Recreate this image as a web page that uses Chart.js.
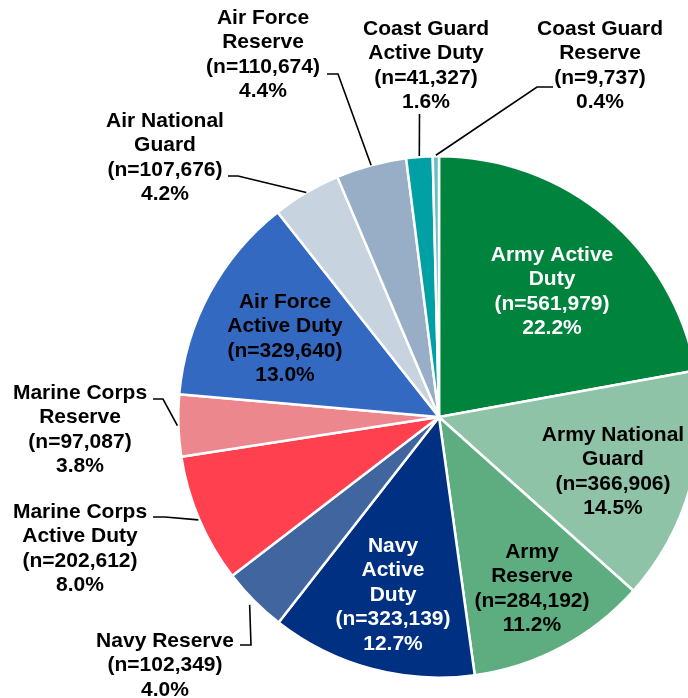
<!DOCTYPE html>
<html>
<head>
<meta charset="utf-8">
<script src="https://cdn.jsdelivr.net/npm/chart.js@4.4.1/dist/chart.umd.min.js"></script>
<style>
  html, body { margin: 0; padding: 0; background: #fff; }
  .wrap { width: 688px; height: 698px; overflow: hidden; position: relative; }
  canvas { display: block; }
</style>
</head>
<body>
<div class="wrap"><canvas id="pie" width="720" height="698"></canvas></div>
<script>
// data
const branches = [
  'Army Active\nDuty', 'Army National\nGuard', 'Army\nReserve', 'Navy\nActive\nDuty',
  'Navy Reserve', 'Marine Corps\nActive Duty', 'Marine Corps\nReserve', 'Air Force\nActive Duty',
  'Air National\nGuard', 'Air Force\nReserve', 'Coast Guard\nActive Duty', 'Coast Guard\nReserve'
];
const counts = [561979, 366906, 284192, 323139, 102349, 202612, 97087, 329640, 107676, 110674, 41327, 9737];
const percents = ['22.2', '14.5', '11.2', '12.7', '4.0', '8.0', '3.8', '13.0', '4.2', '4.4', '1.6', '0.4'];
const colors = ['#00843D', '#8FC3A8', '#5DAD80', '#003082', '#41659F', '#FF404F',
  '#EC878E', '#3469C2', '#C8D3E0', '#98ADC6', '#00A0A4', '#69BEC0'];

const LINE_H = 24.5;
// label placement: centre x, first line centre y, text colour, optional leader line
const labelLayout = [
  { x: 552, y: 255, color: '#fff' },
  { x: 613, y: 435, color: '#000' },
  { x: 532, y: 552, color: '#000' },
  { x: 393, y: 546, color: '#fff' },
  { x: 165, y: 641, color: '#000', leader: [[240, 645], [251, 645]], gap: 6 },
  { x: 80, y: 512, color: '#000', leader: [[153, 517], [165, 517]], gap: 1 },
  { x: 80, y: 393, color: '#000', leader: [[153, 399], [163, 399]], gap: 1 },
  { x: 285, y: 302, color: '#000' },
  { x: 165, y: 121, color: '#000', leader: [[228, 176], [238, 176]], gap: 0 },
  { x: 263, y: 18, color: '#000', leader: [[327, 74], [338, 74]], gap: 0 },
  { x: 426, y: 29, color: '#000', leader: [[419.5, 114]], gap: 1 },
  { x: 600, y: 29, color: '#000', leader: [[553, 87], [537, 87]], gap: 1 }
];

function numberFmt(value) {
  return new Intl.NumberFormat('en-US').format(value);
}

const sliceLabels = {
  id: 'sliceLabels',
  afterDatasetsDraw(chart) {
    const ctx = chart.ctx;
    const meta = chart.getDatasetMeta(0);
    ctx.save();
    meta.data.forEach((arc, i) => {
      const pos = labelLayout[i];
      if (pos.leader) {
        const mid = (arc.startAngle + arc.endAngle) / 2;
        const r = arc.outerRadius + (pos.gap || 0);
        const ax = arc.x + Math.cos(mid) * r;
        const ay = arc.y + Math.sin(mid) * r;
        ctx.beginPath();
        ctx.strokeStyle = '#000';
        ctx.lineWidth = 1.6;
        ctx.moveTo(pos.leader[0][0], pos.leader[0][1]);
        pos.leader.slice(1).forEach((p) => ctx.lineTo(p[0], p[1]));
        ctx.lineTo(ax, ay);
        ctx.stroke();
      }
      const lines = branches[i].split('\n').concat([`(n=${numberFmt(counts[i])})`, `${percents[i]}%`]);
      ctx.font = 'bold 21px "Liberation Sans", Arial, sans-serif';
      ctx.fillStyle = pos.color;
      ctx.textAlign = 'center';
      ctx.textBaseline = 'middle';
      lines.forEach((t, k) => ctx.fillText(t, pos.x, pos.y + k * LINE_H));
    });
    ctx.restore();
  }
};

new Chart(document.getElementById('pie'), {
  type: 'pie',
  data: {
    labels: branches,
    datasets: [{
      data: counts,
      backgroundColor: colors,
      borderColor: '#fff',
      borderWidth: 2.5
    }]
  },
  options: {
    responsive: false,
    animation: false,
    layout: { padding: { left: 177, top: 155, right: 19, bottom: 19 } },
    plugins: {
      legend: { display: false },
      tooltip: { enabled: false }
    }
  },
  plugins: [sliceLabels]
});
</script>
</body>
</html>
